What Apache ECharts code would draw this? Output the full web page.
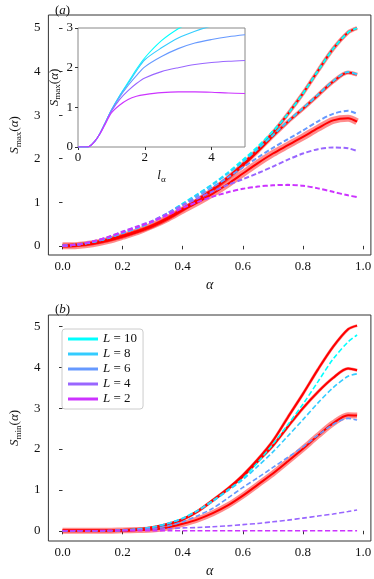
<!DOCTYPE html>
<html>
<head>
<meta charset="utf-8">
<script src="https://cdn.jsdelivr.net/npm/echarts@6/dist/echarts.min.js"></script>
<style>
  html, body { margin: 0; padding: 0; background: #fff; }
  #chart { width: 374px; height: 579px; }
</style>
</head>
<body>
<div id="chart"></div>
<script>
// alpha grid shared by both big panels
var alpha = [0, 0.05, 0.1, 0.15, 0.2, 0.25, 0.3, 0.35, 0.4, 0.45, 0.5, 0.55, 0.6, 0.65, 0.7, 0.75, 0.8, 0.85, 0.9, 0.95, 0.98];
var sizes = [10, 8, 6, 4, 2];
var xTicks = [0, 0.2, 0.4, 0.6, 0.8, 1.0];
var yTicks = [0, 1, 2, 3, 4, 5];

// (a) S_max : exact (red) curves
var maxExact10 = [0, 0.02, 0.06, 0.13, 0.22, 0.33, 0.46, 0.63, 0.84, 1.06, 1.3, 1.57, 1.88, 2.22, 2.6, 3.03, 3.5, 4.02, 4.52, 4.9, 5.0];
var maxExact8  = [0, 0.02, 0.06, 0.13, 0.22, 0.33, 0.46, 0.63, 0.83, 1.05, 1.29, 1.55, 1.84, 2.17, 2.52, 2.85, 3.15, 3.46, 3.77, 3.98, 3.93];
var maxExact6  = [0, 0.01, 0.05, 0.12, 0.22, 0.33, 0.47, 0.63, 0.82, 1.0, 1.2, 1.42, 1.66, 1.9, 2.12, 2.31, 2.5, 2.7, 2.88, 2.93, 2.85];
// (a) S_max : dashed curves per L
var maxL10 = [0, 0.03, 0.09, 0.18, 0.3, 0.42, 0.56, 0.75, 0.97, 1.19, 1.42, 1.68, 1.97, 2.28, 2.63, 3.03, 3.5, 4.02, 4.52, 4.9, 5.0];
var maxL8  = [0, 0.03, 0.09, 0.18, 0.3, 0.42, 0.56, 0.75, 0.96, 1.18, 1.41, 1.66, 1.93, 2.23, 2.54, 2.86, 3.16, 3.47, 3.78, 3.99, 3.94];
var maxL6  = [0, 0.03, 0.09, 0.18, 0.3, 0.42, 0.56, 0.74, 0.94, 1.14, 1.35, 1.57, 1.8, 2.03, 2.25, 2.45, 2.65, 2.86, 3.03, 3.1, 3.03];
var maxL4  = [0, 0.03, 0.1, 0.2, 0.33, 0.45, 0.58, 0.75, 0.93, 1.09, 1.25, 1.4, 1.53, 1.67, 1.82, 1.98, 2.12, 2.22, 2.26, 2.24, 2.18];
var maxL2  = [0, 0.03, 0.1, 0.2, 0.32, 0.44, 0.56, 0.71, 0.87, 1.01, 1.13, 1.23, 1.31, 1.36, 1.39, 1.4, 1.38, 1.32, 1.24, 1.16, 1.12];

// inset: S_max vs l_alpha
var lAlpha = [0, 0.25, 0.35, 0.5, 0.65, 0.8, 1.0, 1.25, 1.5, 1.75, 2.0, 2.5, 3.0, 3.5, 4.0, 4.5, 5.0];
var insL10 = [0, 0, 0.02, 0.14, 0.33, 0.58, 0.93, 1.3, 1.63, 1.96, 2.25, 2.68, 2.98, 3.2, 3.38, 3.52, 3.62];
var insL8  = [0, 0, 0.02, 0.14, 0.33, 0.58, 0.93, 1.29, 1.6, 1.92, 2.2, 2.5, 2.75, 2.92, 3.05, 3.15, 3.22];
var insL6  = [0, 0, 0.02, 0.14, 0.33, 0.58, 0.92, 1.26, 1.55, 1.8, 2.02, 2.28, 2.48, 2.62, 2.71, 2.78, 2.83];
var insL4  = [0, 0, 0.02, 0.14, 0.33, 0.58, 0.9, 1.2, 1.42, 1.6, 1.74, 1.9, 2.0, 2.08, 2.13, 2.16, 2.18];
var insL2  = [0, 0, 0.02, 0.14, 0.32, 0.55, 0.86, 1.06, 1.2, 1.28, 1.32, 1.37, 1.39, 1.39, 1.38, 1.36, 1.35];

// (b) S_min : exact (red) curves
var minExact10 = [0, 0, 0, 0, 0.01, 0.03, 0.08, 0.16, 0.28, 0.48, 0.75, 1.03, 1.36, 1.75, 2.2, 2.78, 3.35, 3.95, 4.5, 4.93, 5.02];
var minExact8  = [0, 0, 0, 0, 0.01, 0.03, 0.08, 0.16, 0.28, 0.48, 0.74, 1.02, 1.33, 1.7, 2.08, 2.55, 3.0, 3.4, 3.74, 3.97, 3.93];
var minExact6  = [0, 0, 0, 0, 0.01, 0.02, 0.03, 0.08, 0.17, 0.28, 0.43, 0.62, 0.86, 1.13, 1.4, 1.7, 2.01, 2.33, 2.63, 2.83, 2.82];
// (b) S_min : dashed curves per L
var minL10 = [0, 0, 0, 0, 0.01, 0.04, 0.09, 0.18, 0.31, 0.5, 0.74, 1.0, 1.28, 1.68, 2.12, 2.6, 3.1, 3.65, 4.2, 4.62, 4.79];
var minL8  = [0, 0, 0, 0, 0.01, 0.04, 0.09, 0.18, 0.3, 0.49, 0.72, 0.98, 1.25, 1.58, 1.93, 2.32, 2.72, 3.13, 3.5, 3.78, 3.84];
var minL6  = [0, 0, 0, 0, 0.01, 0.02, 0.05, 0.12, 0.22, 0.37, 0.55, 0.8, 1.06, 1.3, 1.55, 1.8, 2.05, 2.34, 2.6, 2.75, 2.71];
var minL4  = [0, 0, 0, 0.01, 0.02, 0.03, 0.04, 0.05, 0.07, 0.08, 0.1, 0.12, 0.15, 0.18, 0.22, 0.26, 0.31, 0.36, 0.41, 0.47, 0.51];
var minL2  = [0, 0, 0, 0, 0, 0, 0, 0, 0, 0, 0, 0, 0, 0, 0, 0, 0, 0, 0, 0, 0];

var colors = ['#00ffff', '#33ccff', '#6699ff', '#9966ff', '#cc33ff'];
var serif = '"Liberation Serif", "DejaVu Serif", serif';
var frame = '#333';

function pairs(xs, ys) {
    return xs.map(function (x, i) { return [x, ys[i]]; });
}
function lname(L) { return 'L = ' + L; }

function rich(size) {
    return {
        i: { fontFamily: serif, fontStyle: 'italic', fontWeight: 'normal', fontSize: size, color: '#111', lineHeight: size + 4 },
        n: { fontFamily: serif, fontWeight: 'normal', fontSize: size, color: '#111', lineHeight: size + 4 },
        s: { fontFamily: serif, fontWeight: 'normal', fontSize: size * 0.7, color: '#111', lineHeight: size + 4, verticalAlign: 'bottom', padding: [size * 0.45, 0, 0, 0] }
    };
}
var labelStyle = { fontFamily: serif, fontSize: 13, color: '#111' };

function dashed(L, k, xs, ys, xi, yi, w) {
    return {
        name: lname(L), type: 'line', xAxisIndex: xi, yAxisIndex: yi,
        data: pairs(xs, ys), showSymbol: false, symbol: 'none',
        smooth: 0.3, z: 5,
        itemStyle: { color: colors[k] },
        lineStyle: { color: colors[k], width: w || 1.6, type: [5, 2.5] }
    };
}
function solid(L, k, xs, ys, xi, yi) {
    return {
        name: lname(L), type: 'line', xAxisIndex: xi, yAxisIndex: yi,
        data: pairs(xs, ys), showSymbol: false, symbol: 'none',
        smooth: 0.3, z: 12,
        itemStyle: { color: colors[k] },
        lineStyle: { color: colors[k], width: 1.1 }
    };
}
function exact(ys, xi, yi, band) {
    return [{
        name: 'band', type: 'line', xAxisIndex: xi, yAxisIndex: yi,
        data: pairs(alpha, ys), showSymbol: false, symbol: 'none',
        smooth: 0.3, z: 3,
        lineStyle: { color: '#ff0000', width: band, opacity: 0.45 }
    }, {
        name: 'exact', type: 'line', xAxisIndex: xi, yAxisIndex: yi,
        data: pairs(alpha, ys), showSymbol: false, symbol: 'none',
        smooth: 0.3, z: 4,
        lineStyle: { color: '#ff0000', width: 2 }
    }];
}

function mainX(idx) {
    return {
        type: 'value', gridIndex: idx, min: -0.047, max: 1.026,
        name: '{i|α}', nameLocation: 'middle', nameGap: 21,
        nameTextStyle: { rich: rich(14) },
        axisLine: { show: false },
        axisTick: { show: true, inside: false, length: 3.5, lineStyle: { color: frame }, customValues: xTicks },
        axisLabel: { show: true, margin: 5, customValues: xTicks, formatter: function (v) { return v.toFixed(1); }, textStyle: labelStyle },
        splitLine: { show: false }
    };
}
function mainY(idx, lo, hi, sub) {
    return {
        type: 'value', gridIndex: idx, min: lo, max: hi,
        name: '{i|S}{s|' + sub + '}{n|(}{i|α}{n|)}', nameLocation: 'middle', nameGap: 24, nameRotate: 90,
        nameTextStyle: { rich: rich(13) },
        axisLine: { show: false },
        axisTick: { show: true, inside: false, length: 3.5, lineStyle: { color: frame }, customValues: yTicks },
        axisLabel: { show: true, margin: 8, customValues: yTicks, textStyle: labelStyle },
        splitLine: { show: false }
    };
}

var series = [];
// (a) main
series = series.concat(exact(maxExact6, 0, 0, 7), exact(maxExact8, 0, 0, 4), exact(maxExact10, 0, 0, 4));
[maxL10, maxL8, maxL6, maxL4, maxL2].forEach(function (ys, k) {
    series.push(dashed(sizes[k], k, alpha, ys, 0, 0, 2));
});
// inset
[insL10, insL8, insL6, insL4, insL2].forEach(function (ys, k) {
    series.push(solid(sizes[k], k, lAlpha, ys, 1, 1));
});
// (b) main
series = series.concat(exact(minExact6, 2, 2, 6), exact(minExact8, 2, 2, 3), exact(minExact10, 2, 2, 3));
[minL10, minL8, minL6, minL4, minL2].forEach(function (ys, k) {
    series.push(dashed(sizes[k], k, alpha, ys, 2, 2, 1.6));
});

var option = {
    animation: false,
    backgroundColor: '#fff',
    title: [
        { text: '{n|(}{i|a}{n|)}', left: 50, top: -3, textStyle: { fontWeight: 'normal', rich: rich(13) } },
        { text: '{n|(}{i|b}{n|)}', left: 50, top: 296, textStyle: { fontWeight: 'normal', rich: rich(13) } }
    ],
    legend: {
        orient: 'vertical', left: 62, top: 329,
        data: sizes.map(lname),
        icon: 'rect', itemWidth: 30, itemHeight: 3, itemGap: 1,
        backgroundColor: '#fff', borderColor: '#ccc', borderWidth: 1, borderRadius: 3,
        padding: [3, 6, 3, 6],
        formatter: function (name) { return '{i|L} {n|' + name.slice(2) + '}'; },
        textStyle: { fontFamily: serif, fontSize: 13, color: '#111', lineHeight: 14, rich: {
            i: { fontFamily: serif, fontStyle: 'italic', fontSize: 13, color: '#111' },
            n: { fontFamily: serif, fontSize: 13, color: '#111' }
        } },
        selectedMode: false
    },
    grid: [
        { left: 40, top: 15, width: 331, height: 240, show: true, borderColor: frame, borderWidth: 1, backgroundColor: 'transparent' },
        { left: 78, top: 28, width: 167, height: 119, show: true, borderColor: '#888', borderWidth: 1, backgroundColor: '#fff', z: 10 },
        { left: 40, top: 315, width: 331, height: 240, show: true, borderColor: frame, borderWidth: 1, backgroundColor: 'transparent' }
    ],
    xAxis: [
        mainX(0),
        {
            type: 'value', gridIndex: 1, min: 0, max: 5, z: 12,
            name: '{i|l}{s|α}', nameLocation: 'middle', nameGap: 20,
            nameTextStyle: { rich: rich(13) },
            axisLine: { show: false },
            axisTick: { show: true, inside: false, length: 3, lineStyle: { color: frame }, customValues: [0, 2, 4] },
            axisLabel: { show: true, margin: 4, customValues: [0, 2, 4], textStyle: labelStyle },
            splitLine: { show: false }
        },
        mainX(2)
    ],
    yAxis: [
        mainY(0, -0.21, 5.30, 'max'),
        {
            type: 'value', gridIndex: 1, min: 0, max: 3, z: 12,
            name: '{i|S}{s|max}{n|(}{i|α}{n|)}', nameLocation: 'middle', nameGap: 14, nameRotate: 90,
            nameTextStyle: { rich: rich(13) },
            axisLine: { show: false },
            axisTick: { show: true, inside: false, length: 3, lineStyle: { color: frame }, customValues: [0, 1, 2, 3] },
            axisLabel: { show: true, margin: 5, customValues: [0, 1, 2, 3], textStyle: labelStyle },
            splitLine: { show: false }
        },
        mainY(2, -0.25, 5.28, 'min')
    ],
    series: series
};

var chart = echarts.init(document.getElementById('chart'));
chart.setOption(option);
</script>
</body>
</html>
